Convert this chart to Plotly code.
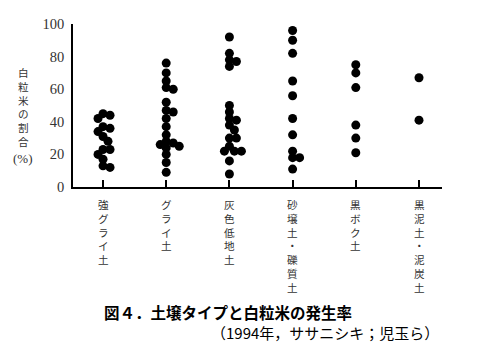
import plotly.graph_objects as go

# ---- data ----
categories = ["強グライ土", "グライ土", "灰色低地土", "砂壌土・礫質土", "黒ボク土", "黒泥土・泥炭土"]
v_kyogurai = [45, 44, 42, 37, 36, 34, 31, 28, 23, 23, 20, 17, 13, 12]
v_gurai = [76, 70, 65, 61, 60, 52, 47, 46, 42, 37, 32, 28, 27, 26, 25, 24, 20, 15, 9]
v_haishoku = [92, 82, 78, 77, 74, 50, 46, 42, 41, 38, 35, 30, 30, 25, 22, 22, 22, 16, 8]
v_sajo = [96, 90, 82, 65, 56, 42, 32, 22, 18, 18, 11]
v_kuroboku = [75, 70, 61, 38, 30, 21]
v_kurodei = [67, 41]
series = [v_kyogurai, v_gurai, v_haishoku, v_sajo, v_kuroboku, v_kurodei]
y_ticks = [0, 20, 40, 60, 80, 100]
y_title = "白粒米の割合"
caption1 = "図４．土壌タイプと白粒米の発生率"
caption2 = "（1994年，ササニシキ；児玉ら）"

# ---- layout geometry ----
W, H = 480, 352
L, R, T, B = 73, 38, 24, 165
PW, PH = W - L - R, H - T - B
XR = [-0.475, 5.364]
px_per_cat = PW / (XR[1] - XR[0])
px_per_unit = PH / 100.0


def beeswarm(vals, d=6.5):
    placed = []
    offs = [0.0] * len(vals)
    order = sorted(range(len(vals)), key=lambda i: -vals[i])
    cands = [0]
    for k in range(1, 25):
        cands += [k, -k]
    for i in order:
        yp = vals[i] * px_per_unit
        for c in cands:
            if all((c - ox) ** 2 + (yp - oy) ** 2 >= d * d for ox, oy in placed):
                placed.append((c, yp))
                offs[i] = c / px_per_cat
                break
    return offs


fig = go.Figure()
for ci, vals in enumerate(series):
    offs = beeswarm(vals)
    fig.add_trace(go.Scatter(
        x=[ci + o for o in offs], y=vals, mode="markers",
        marker=dict(color="black", size=9, line=dict(width=0)),
        cliponaxis=False, showlegend=False, hoverinfo="y"))


def py2paper(p):
    return 1 - (p - T) / PH


def px2paper(p):
    return (p - L) / PW


anns = []
# vertical x category labels
for ci, lab in enumerate(categories):
    anns.append(dict(x=ci, xref="x", y=py2paper(195), yref="paper",
                     text="<br>".join(lab), showarrow=False, xanchor="center", yanchor="top",
                     align="center",
                     font=dict(family="Noto Sans CJK JP", size=10.6, color="#333")))
# vertical y title
anns.append(dict(x=px2paper(23), xref="paper", y=py2paper(63), yref="paper",
                 text="<br>".join(y_title), showarrow=False, xanchor="center", yanchor="top",
                 align="center",
                 font=dict(family="Noto Sans CJK JP", size=10.6, color="#333")))
anns.append(dict(x=px2paper(23), xref="paper", y=py2paper(158), yref="paper",
                 text="(%)", showarrow=False, xanchor="center", yanchor="middle",
                 font=dict(family="Liberation Serif", size=13, color="#333")))
# captions
anns.append(dict(x=px2paper(102), xref="paper", y=py2paper(312), yref="paper",
                 text=caption1, showarrow=False, xanchor="left", yanchor="middle",
                 font=dict(family="Noto Sans CJK JP", size=15.5, color="black", weight="bold")))
anns.append(dict(x=px2paper(441), xref="paper", y=py2paper(332), yref="paper",
                 text=caption2, showarrow=False, xanchor="right", yanchor="middle",
                 font=dict(family="Noto Sans CJK JP", size=15, color="black")))

fig.update_layout(
    width=W, height=H,
    margin=dict(l=L, r=R, t=T, b=B, pad=0),
    paper_bgcolor="white", plot_bgcolor="white",
    annotations=anns,
    xaxis=dict(range=XR, tickvals=list(range(len(categories))), showticklabels=False,
               ticks="inside", ticklen=7, tickwidth=1.5, tickcolor="black",
               showline=True, linecolor="black", linewidth=1.8, showgrid=False,
               zeroline=False, fixedrange=True),
    yaxis=dict(range=[0, 100], tickvals=y_ticks, ticks="", showline=True,
               linecolor="black", linewidth=1.5, showgrid=False, zeroline=False,
               tickfont=dict(family="Liberation Serif", size=14.5, color="#333"),
               ticklabelstandoff=4, fixedrange=True),
)

fig.write_html("out.html")
